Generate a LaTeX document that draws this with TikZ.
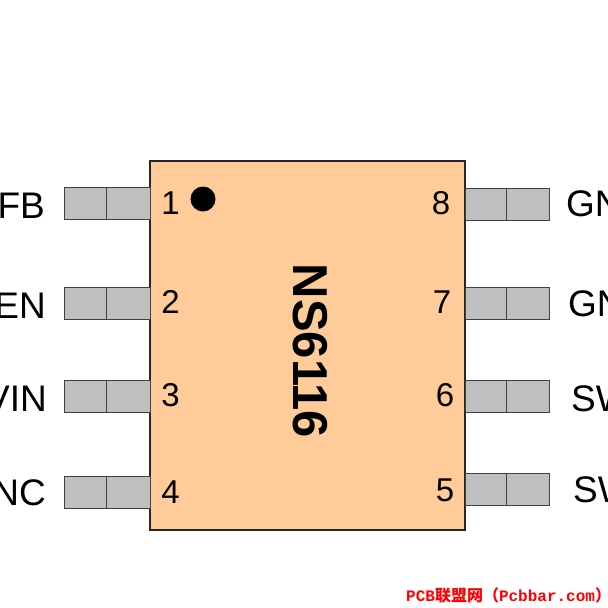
\documentclass[tikz,border=0pt]{standalone}
\usepackage{fontspec}
\setmainfont{Liberation Sans}
\newfontfamily\markfont{Liberation Mono}
\newfontfamily\cjkfont{Noto Sans CJK SC}
\tikzset{
    pinbox/.style={draw=black!75,line width=0.9pt,fill=black!25},
    pinname/.style={font=\fontsize{37}{37}\selectfont,inner sep=0pt},
    pinnum/.style={font=\fontsize{33}{33}\selectfont,inner sep=0pt}
}
\begin{document}
\begin{tikzpicture}[x=1pt,y=-1pt]
    \useasboundingbox (0,0) rectangle (608,608);
    \clip (0,0) rectangle (608,608);
    \draw[line width=1.6pt,draw=black!85,fill={rgb,255:red,255;green,204;blue,153}] (150,161) rectangle (465,530);
    \foreach \ya/\yb/\yc in {187/1/203,287/2/302,380/3/395,476/4/492}{
        \draw[pinbox] (64,\ya) rectangle (106,\ya+32);
        \draw[pinbox] (106,\ya) rectangle (150,\ya+32);
        \node[pinnum,anchor=center] (num\yb) at (170.5,\yc) {\yb};
    }
    \foreach \ya/\yb/\xc/\yc in {188/8/441/203,287/7/442/302,380/6/445/395,473/5/445/490}{
        \draw[pinbox] (465,\ya) rectangle (506,\ya+32);
        \draw[pinbox] (506,\ya) rectangle (549,\ya+32);
        \node[pinnum,anchor=center] (num\yb) at (\xc,\yc) {\yb};
    }
    \fill[black] (203,199) circle (12.5);
    \node[font=\bfseries\fontsize{49}{49}\selectfont,inner sep=0pt,rotate=-90] (chip) at (310,351) {NS6116};
    % pin names run off the page on both sides
    \node[pinname,anchor=base east] (fb) at (45,218) {FB};
    \node[pinname,anchor=base east] (en) at (46,318) {EN};
    \node[pinname,anchor=base east] (vin) at (47,411) {VIN};
    \node[pinname,anchor=base east] (nc) at (46,505) {NC};
    \node[pinname,anchor=base west] (gnda) at (566,216) {GND};
    \node[pinname,anchor=base west] (gndb) at (568,316) {GND};
    \node[pinname,anchor=base west] (swa) at (571,411) {SW};
    \node[pinname,anchor=base west] (swb) at (573,502) {SW};
    \node[anchor=base west,inner sep=0pt,text=red,font=\bfseries\fontsize{16}{16}\selectfont] (mark) at (406,601)
        {\markfont PCB\cjkfont 联盟网（\markfont Pcbbar.com\cjkfont ）};
\end{tikzpicture}
\end{document}
